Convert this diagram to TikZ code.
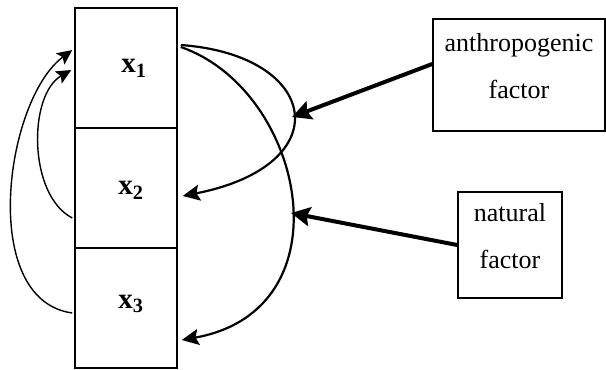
\documentclass[tikz,border=0pt]{standalone}
\usepackage{fontspec}
\setmainfont{Liberation Serif}
\usetikzlibrary{arrows.meta}

\begin{document}
\begin{tikzpicture}[x=1pt, y=-1pt]
	\useasboundingbox (0,0) rectangle (606,370);
	\tikzstyle{cell}=[draw, line width=1.5pt, rectangle, minimum width=102pt, minimum height=120pt, inner sep=0pt]
	\tikzstyle{factorbox}=[draw, line width=1.5pt, rectangle, inner sep=0pt, align=center, text depth=18pt, font=\fontsize{26}{47}\selectfont]
	\tikzstyle{varlabel}=[inner sep=0pt, font=\fontsize{29}{32}\selectfont\bfseries]
	\tikzstyle{loop arrow}=[line width=1.4pt, -{Stealth[length=15pt, width=14pt, inset=3pt]}]
	\tikzstyle{effect arrow}=[line width=2.2pt, -{Stealth[length=17pt, width=16pt, inset=3pt]}]
	\tikzstyle{factor arrow}=[line width=4pt, -{Stealth[length=19pt, width=19pt, inset=3pt]}]
	
	\node[cell] (x1) at (126,68) {};
	\node[cell] (x2) at (126,188) {};
	\node[cell] (x3) at (126,308) {};
	\node[varlabel] (l1) at (134,68) {x\textsubscript{1}};
	\node[varlabel] (l2) at (131,190) {x\textsubscript{2}};
	\node[varlabel] (l3) at (131,304) {x\textsubscript{3}};
	
	\node[factorbox, minimum width=172pt, minimum height=112pt] (anthro) at (519,75) {anthropogenic\\factor};
	\node[factorbox, minimum width=104pt, minimum height=106pt] (nat) at (510,245) {natural\\factor};
	
	\coordinate (hitA) at (292,117);
	\coordinate (hitN) at (291,213);
	
	\draw[loop arrow] ([xshift=-2pt, yshift=-30pt]x2.west) .. controls (28,195) and (28,95) .. ([xshift=-3pt, yshift=-2pt]x1.west);
	\draw[loop arrow] ([xshift=-2pt, yshift=-5pt]x3.west) .. controls (-22,300) and (5,100) .. ([xshift=-2pt, yshift=18pt]x1.west);
	
	\draw[effect arrow] ([xshift=3pt, yshift=23pt]x1.east) .. controls (320,55) and (340,165) .. ([xshift=5pt, yshift=-8pt]x2.east);
	\draw[effect arrow] ([xshift=3pt, yshift=21pt]x1.east) .. controls (305,90) and (350,310) .. ([xshift=4pt, yshift=-32pt]x3.east);
	
	\draw[factor arrow] ([yshift=11pt]anthro.west) -- (hitA);
	\draw[factor arrow] (nat.west) -- (hitN);
\end{tikzpicture}
\end{document}
